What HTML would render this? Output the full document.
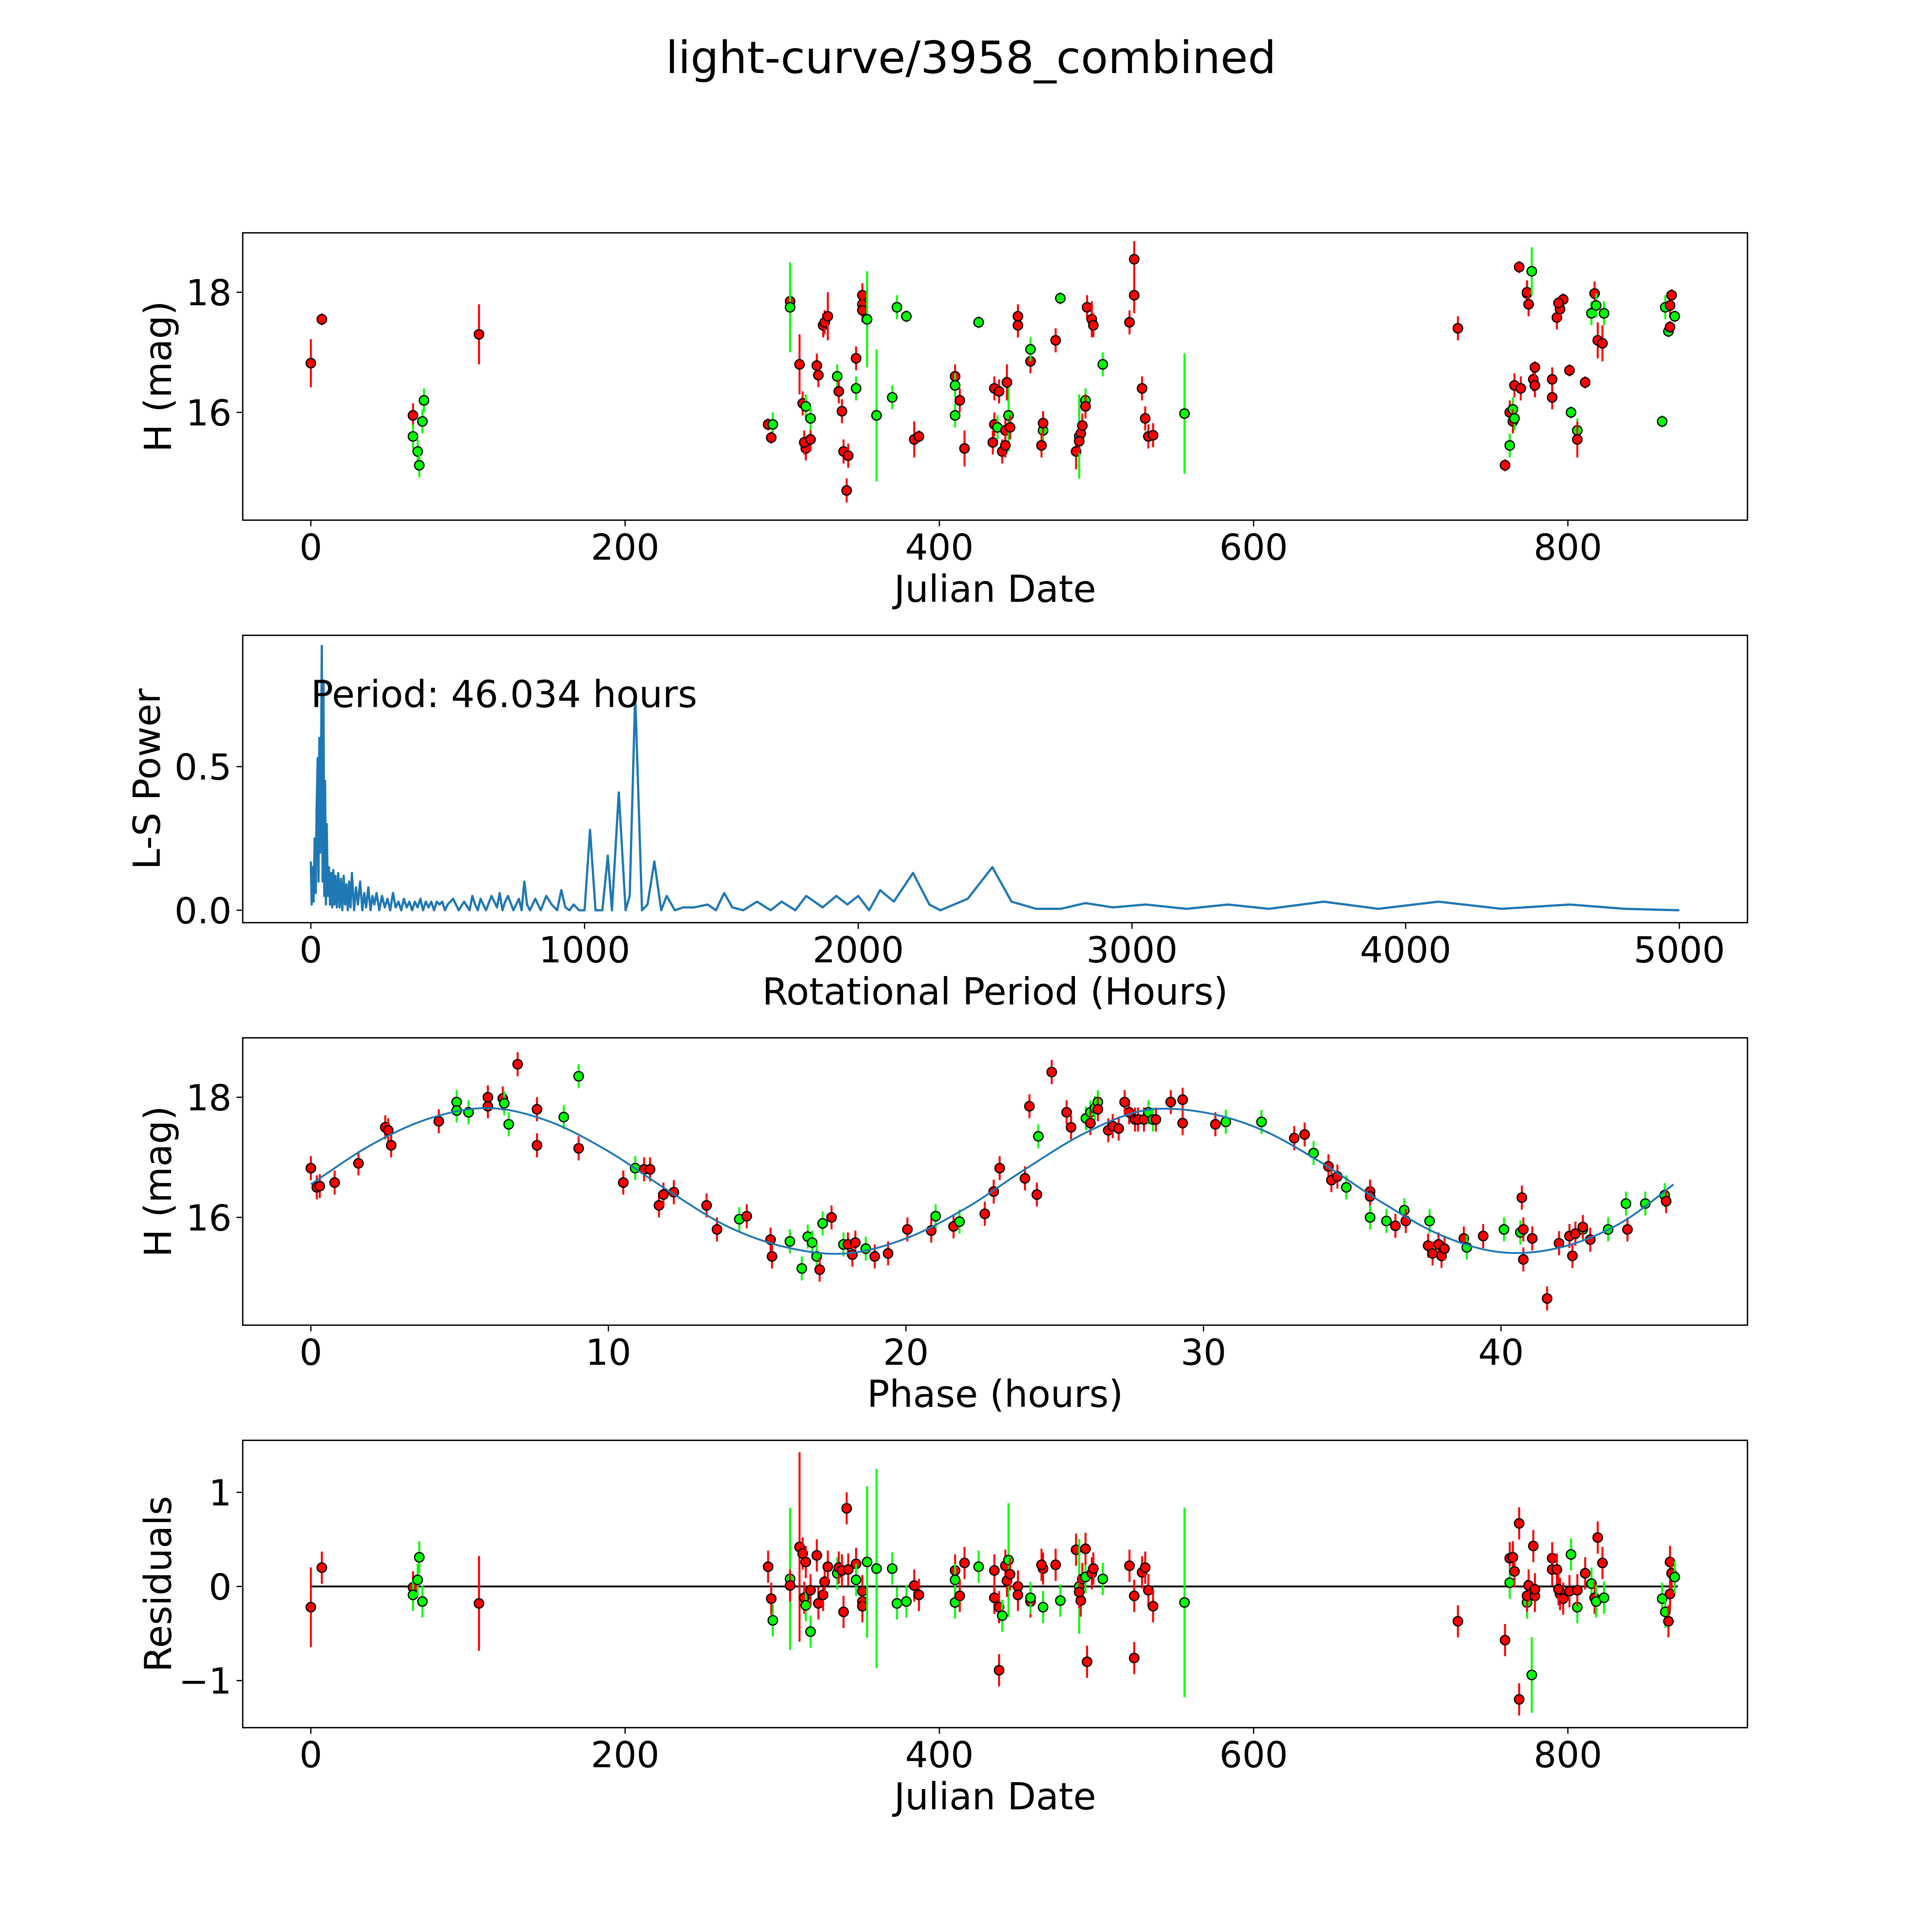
<!DOCTYPE html>
<html><head><meta charset="utf-8">
<style>
html,body{margin:0;padding:0;background:#fff;width:100%;height:100%;overflow:hidden;}
svg{display:block;width:100vw;height:100vh;}
text{font-family:"DejaVu Sans","Liberation Sans",sans-serif;fill:#000;}
</style></head>
<body>
<svg id="fig" viewBox="0 0 1560 1560" preserveAspectRatio="none" xmlns="http://www.w3.org/2000/svg">
<rect x="0" y="0" width="1560" height="1560" fill="#fff"/>
<text x="784" y="59" font-size="36" text-anchor="middle">light-curve/3958_combined</text>
<g id="layer"></g>
</svg>
<script>
// ---------- DATA ----------
const lcPoints=[[0,16.82,0.4,'r'],[7,17.55,0.1,'r'],[107,17.3,0.5,'r'],[65,15.95,0.2,'r'],[65,15.6,0.2,'g'],[68,15.35,0.2,'g'],[69,15.12,0.2,'g'],[71,15.85,0.2,'g'],[72,16.2,0.2,'g'],
[291,15.8,0.1,'r'],[294,15.8,0.2,'g'],[293,15.58,0.1,'r'],[305,17.85,0.2,'r'],[305,17.75,0.75,'g'],[311,16.8,0.5,'r'],[313,16.15,0.2,'r'],[315,16.1,0.2,'g'],[315,15.4,0.2,'r'],[314,15.5,0.2,'r'],[318,15.55,0.2,'r'],[318,15.9,0.2,'g'],
[322,16.78,0.2,'r'],[323,16.62,0.2,'r'],[326,17.45,0.2,'r'],[327,17.5,0.2,'r'],[329,17.6,0.4,'r'],[335,16.6,0.2,'g'],[336,16.35,0.2,'r'],[338,16.02,0.2,'r'],[339,15.35,0.2,'r'],[342,15.28,0.2,'r'],[341,14.7,0.2,'r'],
[347,16.9,0.2,'r'],[347,16.4,0.2,'g'],[351,17.95,0.2,'r'],[351,17.8,0.2,'r'],[351,17.7,0.2,'r'],[354,17.55,0.8,'g'],[360,15.95,1.1,'g'],[370,16.25,0.2,'g'],[373,17.75,0.2,'g'],[379,17.6,0.1,'g'],[384,15.55,0.3,'r'],[387,15.6,0.1,'r'],
[410,16.6,0.2,'r'],[410,16.45,0.2,'g'],[410,15.95,0.2,'g'],[413,16.2,0.2,'r'],[416,15.4,0.3,'r'],[425,17.5,0.1,'g'],[435,16.4,0.2,'r'],[438,16.35,0.2,'r'],[435,15.8,0.2,'r'],[434,15.5,0.2,'r'],[437,15.75,0.2,'g'],[440,15.35,0.2,'r'],[442,15.7,0.2,'r'],[444,15.95,0.6,'g'],[443,16.5,0.3,'r'],[442,15.45,0.2,'r'],[445,15.75,0.2,'r'],
[450,17.6,0.2,'r'],[450,17.45,0.2,'r'],[458,16.85,0.2,'r'],[458,17.05,0.2,'g'],[466,15.7,0.2,'g'],[466,15.82,0.2,'r'],[465,15.45,0.2,'r'],[474,17.2,0.2,'r'],[477,17.9,0.1,'g'],
[487,15.35,0.3,'r'],[489,15.6,0.7,'g'],[490,15.65,0.2,'r'],[491,15.78,0.2,'r'],[489,15.52,0.2,'r'],[493,16.2,0.2,'g'],[493,16.1,0.2,'r'],[494,17.75,0.2,'r'],[497,17.55,0.3,'r'],[498,17.45,0.2,'r'],[504,16.8,0.2,'g'],
[521,17.5,0.2,'r'],[524,17.95,0.3,'r'],[524,18.55,0.3,'r'],[529,16.4,0.2,'r'],[531,15.9,0.2,'r'],[533,15.6,0.2,'r'],[536,15.62,0.2,'r'],[556,15.98,1.0,'g'],
[730,17.4,0.2,'r'],[760,15.12,0.1,'r'],[763,15.45,0.2,'g'],[763,16.0,0.2,'r'],[765,16.05,0.2,'g'],[765,15.85,0.2,'r'],[766,15.9,0.2,'g'],[766,16.45,0.2,'r'],[770,16.4,0.2,'r'],
[769,18.42,0.1,'r'],[774,17.98,0.2,'g'],[774,18.0,0.2,'r'],[775,17.8,0.2,'r'],[777,18.35,0.4,'g'],[778,16.55,0.2,'r'],[779,16.75,0.1,'r'],[779,16.45,0.2,'r'],[790,16.55,0.2,'r'],[790,16.25,0.2,'r'],
[793,17.58,0.2,'r'],[795,17.72,0.2,'r'],[797,17.88,0.1,'r'],[794,17.82,0.1,'r'],[801,16.7,0.1,'r'],[802,16.0,0.1,'g'],[806,15.7,0.2,'g'],[806,15.55,0.3,'r'],[811,16.5,0.1,'r'],
[815,17.65,0.2,'g'],[817,17.98,0.2,'r'],[818,17.78,0.2,'g'],[819,17.2,0.3,'r'],[822,17.15,0.3,'r'],[823,17.65,0.2,'g'],[860,15.85,0.1,'g'],[862,17.75,0.2,'g'],[864,17.35,0.1,'g'],[865,17.42,0.1,'r'],[865,17.78,0.2,'r'],[866,17.95,0.1,'r'],[868,17.6,0.1,'g']];

const lsPeriod=[0,3,6,10,14,18,21,25,28,31,34,37,40,43,46,49,52,55,58,62,66,70,74,78,82,86,90,95,100,105,110,115,120,125,130,135,140,145,150,158,165,172,180,188,195,202,210,218,225,232,240,250,260,270,280,290,300,310,320,330,340,350,360,370,380,390,400,410,420,430,440,450,460,470,480,490,500,520,540,560,580,590,600,610,620,640,660,680,690,700,710,720,740,760,770,780,790,800,820,840,860,880,900,915,930,945,960,980,1000,1020,1040,1065,1085,1100,1125,1150,1165,1185,
1210,1230,1255,1280,1300,1330,1360,1400,1450,1480,1510,1540,1580,1630,1680,1720,1770,1810,1870,1920,1960,2000,2040,2080,2130,2200,2260,2300,2400,2490,2560,2650,2740,2830,2930,3050,3200,3350,3500,3700,3900,4120,4350,4600,4800,5000];
const lsPower=[0.17,0.02,0.15,0.03,0.25,0.06,0.35,0.53,0.1,0.6,0.2,0.5,0.92,0.1,0.8,0.05,0.45,0.02,0.3,0.05,0.15,0.02,0.13,0.01,0.14,0.02,0.12,0.01,0.13,0.01,0.11,0.0,0.12,0.02,0.09,0.0,0.1,0.01,0.13,0.0,0.08,0.02,0.1,0.0,0.06,0.01,0.08,0.0,0.05,0.02,0.06,0.0,0.05,0.01,0.04,0.0,0.06,0.01,0.03,0.0,0.04,0.01,0.03,0.0,0.03,0.01,0.04,0.0,0.03,0.01,0.03,0.0,0.03,0.02,0.03,0.0,0.02,0.04,0.0,0.03,0.0,0.05,0.02,0.0,0.04,0.0,0.05,0.01,0.06,0.0,0.03,0.05,0.0,0.04,0.0,0.1,0.02,0.0,0.04,0.0,0.05,0.02,0.0,0.07,0.01,0.0,0.02,0.0,0.0,0.28,0.0,0.0,0.19,0.0,0.41,0.0,0.05,0.75,
0.0,0.02,0.17,0.0,0.05,0.0,0.01,0.01,0.02,0.0,0.06,0.01,0.0,0.03,0.0,0.03,0.0,0.05,0.01,0.05,0.02,0.05,0.0,0.07,0.03,0.13,0.02,0.0,0.04,0.15,0.03,0.005,0.005,0.025,0.01,0.02,0.005,0.02,0.005,0.03,0.005,0.03,0.005,0.02,0.005,0.0];

const fitPhase=[0,2,4,6,8,10,12,14,16,18,20,22,24,26,28,30,32,34,36,38,40,42,44,45.8];
const fitMag=[16.55,17.2,17.65,17.82,17.6,17.1,16.45,15.85,15.5,15.4,15.65,16.15,16.8,17.4,17.78,17.75,17.45,16.9,16.25,15.7,15.42,15.5,15.9,16.55];

const phPoints=[[0,16.82,'r'],[0.2,16.5,'r'],[0.3,16.52,'r'],[0.8,16.58,'r'],[1.6,16.9,'r'],[2.5,17.5,'r'],[2.6,17.45,'r'],[2.7,17.2,'r'],[4.3,17.6,'r'],[4.9,17.92,'g'],[4.9,17.78,'g'],[5.3,17.75,'g'],[5.95,17.85,'r'],[5.95,18.0,'r'],[6.45,17.98,'r'],[6.5,17.9,'g'],[6.65,17.55,'g'],[6.95,18.55,'r'],[7.6,17.8,'r'],[7.6,17.2,'r'],[8.5,17.67,'g'],[9.0,17.15,'r'],[9.0,18.35,'g'],
[10.5,16.58,'r'],[10.9,16.82,'g'],[11.2,16.8,'r'],[11.4,16.8,'r'],[11.7,16.2,'r'],[11.85,16.38,'r'],[12.2,16.42,'r'],[13.3,16.2,'r'],[13.65,15.8,'r'],[14.4,15.97,'g'],[14.65,16.02,'r'],[15.45,15.63,'r'],[15.5,15.35,'r'],[16.1,15.6,'g'],[16.5,15.15,'g'],[16.7,15.68,'g'],[16.85,15.58,'g'],[17.0,15.35,'g'],[17.1,15.13,'r'],[17.2,15.9,'g'],[17.5,16.0,'r'],[17.9,15.55,'g'],[18.05,15.55,'r'],[18.3,15.58,'r'],[18.2,15.38,'r'],[18.65,15.48,'g'],[18.95,15.35,'r'],[19.4,15.4,'r'],
[20.05,15.8,'r'],[20.85,15.78,'r'],[21.0,16.02,'g'],[21.6,15.85,'r'],[21.8,15.93,'g'],[22.65,16.06,'r'],[22.95,16.43,'r'],[23.15,16.82,'r'],[24.0,16.65,'r'],[24.4,16.38,'r'],[24.45,17.35,'g'],[24.15,17.85,'r'],[24.9,18.42,'r'],[25.4,17.75,'r'],[25.55,17.5,'r'],[26.05,17.65,'g'],[26.2,17.75,'g'],[26.35,17.82,'g'],[26.45,17.92,'g'],[26.2,17.57,'r'],[26.45,17.8,'r'],[26.8,17.45,'r'],[26.95,17.52,'r'],[27.15,17.48,'r'],[27.5,17.75,'r'],[27.35,17.92,'r'],[27.7,17.63,'r'],[27.8,17.63,'r'],[28.0,17.63,'r'],[28.15,17.75,'g'],[28.3,17.63,'g'],[28.4,17.63,'r'],[28.9,17.92,'r'],[29.3,17.96,'r'],[29.3,17.57,'r'],
[30.4,17.55,'r'],[30.75,17.59,'g'],[31.95,17.59,'g'],[33.05,17.32,'r'],[33.4,17.38,'r'],[33.7,17.07,'g'],[34.2,16.85,'r'],[34.3,16.62,'r'],[34.5,16.68,'r'],[34.8,16.5,'g'],[35.6,16.43,'r'],[35.6,16.35,'r'],[35.6,16.0,'g'],[36.15,15.94,'g'],[36.45,15.86,'r'],[36.75,16.12,'g'],[36.8,15.94,'r'],[37.6,15.94,'g'],[37.55,15.53,'r'],[37.7,15.4,'r'],[37.9,15.55,'r'],[38.0,15.36,'r'],[38.1,15.48,'r'],[38.75,15.65,'r'],[38.85,15.5,'g'],[39.4,15.69,'r'],
[40.1,15.8,'g'],[40.65,15.75,'g'],[40.7,16.33,'r'],[40.75,15.8,'r'],[40.75,15.3,'r'],[41.05,15.65,'r'],[41.55,14.65,'r'],[41.95,15.57,'r'],[42.3,15.69,'r'],[42.4,15.36,'r'],[42.5,15.73,'r'],[42.75,15.8,'g'],[42.75,15.84,'r'],[43.0,15.63,'r'],[43.6,15.8,'g'],[44.25,15.8,'r'],[44.2,16.23,'g'],[44.85,16.23,'g'],[45.5,16.37,'g'],[45.55,16.27,'r']];

const resPoints=[[0,-0.22,'r'],[7,0.2,'r'],[107,-0.18,'r'],[65,-0.01,'r'],[65,-0.09,'g'],[68,0.07,'g'],[69,0.31,'g'],[71,-0.16,'g'],
[291,0.21,'r'],[294,-0.36,'g'],[293,-0.13,'r'],[305,0.08,'g'],[305,0.01,'r'],[311,0.42,'r'],[313,0.35,'r'],[315,0.26,'r'],[314,-0.12,'r'],[315,-0.2,'g'],[318,-0.48,'g'],[318,-0.04,'r'],[322,0.33,'r'],[323,-0.18,'r'],[326,-0.09,'r'],[327,0.05,'r'],[329,0.21,'r'],[335,0.14,'g'],[336,0.2,'r'],[338,0.17,'r'],[339,-0.27,'r'],[341,0.83,'r'],[342,0.18,'r'],[347,0.24,'r'],[347,0.07,'g'],[351,-0.16,'r'],[351,-0.21,'r'],[351,-0.05,'r'],[354,0.26,'g'],[360,0.19,'g'],[370,0.19,'g'],[373,-0.18,'g'],[379,-0.16,'g'],[384,0.01,'r'],[387,-0.09,'r'],
[410,0.17,'r'],[410,-0.17,'g'],[410,0.07,'g'],[413,-0.1,'r'],[416,0.25,'r'],[425,0.21,'g'],[435,0.17,'r'],[435,-0.12,'r'],[438,-0.22,'r'],[438,-0.89,'r'],[440,-0.31,'g'],[442,0.22,'r'],[444,0.28,'g'],[443,0.06,'r'],[445,0.13,'r'],[450,0.0,'r'],[450,-0.09,'r'],[458,-0.16,'r'],[458,-0.12,'g'],[466,-0.22,'g'],[466,0.19,'r'],[465,0.23,'r'],[474,0.23,'r'],[477,-0.15,'g'],
[487,0.39,'r'],[489,0.0,'g'],[490,-0.15,'r'],[491,0.08,'r'],[489,-0.06,'r'],[493,0.1,'g'],[493,0.4,'r'],[494,-0.8,'r'],[497,0.14,'r'],[498,0.19,'r'],[504,0.08,'g'],[521,0.22,'r'],[524,-0.76,'r'],[524,-0.1,'r'],[529,0.15,'r'],[531,0.2,'r'],[533,-0.04,'r'],[536,-0.21,'r'],[556,-0.17,'g'],
[730,-0.37,'r'],[760,-0.57,'r'],[763,0.3,'r'],[763,0.04,'g'],[765,0.31,'r'],[766,0.16,'r'],[769,-1.2,'r'],[769,0.67,'r'],[774,-0.17,'g'],[774,-0.1,'r'],[775,0.01,'r'],[777,-0.94,'g'],[778,0.43,'r'],[779,-0.1,'r'],[779,-0.03,'r'],[790,0.3,'r'],[790,0.18,'r'],[793,0.18,'r'],[795,-0.08,'r'],[797,-0.13,'r'],[794,-0.03,'r'],[801,-0.05,'r'],[802,0.34,'g'],[806,-0.22,'g'],[806,-0.04,'r'],[811,0.14,'r'],[815,0.03,'g'],[817,-0.12,'r'],[818,-0.16,'g'],[819,0.52,'r'],[822,0.25,'r'],[823,-0.12,'g'],[860,-0.13,'g'],[862,-0.27,'g'],[864,-0.37,'r'],[865,-0.08,'r'],[865,0.26,'r'],[866,0.14,'r'],[868,0.1,'g']];

const dateTicks=[0,200,400,600,800];
const magTicks=[16,18];
const periodTicks=[0,1000,2000,3000,4000,5000];
const powerTicks=[0.0,0.5];
const phaseTicks=[0,10,20,30,40];
const resTicks=[-1,0,1];

// ---------- DRAWING ----------
const NS='http://www.w3.org/2000/svg';
const layer=document.getElementById('layer');
function mk(tag,attrs,parent){const e=document.createElementNS(NS,tag);for(const k in attrs)e.setAttribute(k,attrs[k]);(parent||layer).appendChild(e);return e;}
function lin(d0,d1,p0,p1){return v=>p0+(v-d0)*(p1-p0)/(d1-d0);}

const L=196,R=1411;
const xDate=lin(0,800,251,1266);
const xPer=lin(0,5000,251,1356);
const xPh=lin(0,40,251,1212);
const y1=lin(18,16,236,333);
const y2=lin(0,0.5,735,619);
const y3=lin(18,16,886,983);
const y4=lin(0,1,1281,1205);
const COL={r:'#ff0000',g:'#00ff00'};

function axes(name,top,xs,xt,ys,yt,xlabel,ylabel,fmtY,ylx){
  const g=mk('g',{});
  
  
  const fr=mk('rect',{x:L,y:top,width:R-L,height:232,fill:'none',stroke:'#000','stroke-width':1.1},g);
  
  
  const bot=top+232;
  xt.forEach(v=>{const x=xs(v);
    const t=mk('line',{x1:x,x2:x,y1:bot,y2:bot+5,stroke:'#000','stroke-width':1},g);
    
    
    const tx=mk('text',{x:x,y:bot+32,'font-size':29,'text-anchor':'middle'},g);tx.textContent=String(v);
    
    
  });
  yt.forEach(v=>{const y=ys(v);
    const t=mk('line',{x1:L-5,x2:L,y1:y,y2:y,stroke:'#000','stroke-width':1},g);
    
    
    const tx=mk('text',{x:L-9,y:y+10.5,'font-size':29,'text-anchor':'end'},g);tx.textContent=fmtY(v);
    
    
  });
  const xl=mk('text',{x:(L+R)/2,y:bot+66,'font-size':30,'text-anchor':'middle'},g);xl.textContent=xlabel;
  
  
  const cy=top+116;
  const yl=mk('text',{x:ylx,y:cy,'font-size':30,'text-anchor':'middle',transform:`rotate(-90 ${ylx} ${cy})`},g);yl.textContent=ylabel;
  
  
  return g;
}
function pt(g,x,y,err,c){
  if(err>0){const e=mk('line',{x1:x,x2:x,y1:y-err,y2:y+err,stroke:COL[c],'stroke-width':1.6},g);
    
    }
  const m=mk('circle',{cx:x,cy:y,r:3.8,fill:COL[c],stroke:'#000','stroke-width':1},g);
  
  
}
const intF=v=>String(v);
const minusF=v=>v<0?'\u2212'+Math.abs(v):String(v);

// Panel 1
const g1=axes('light-curve-panel',188,xDate,dateTicks,y1,magTicks,'Julian Date','H (mag)',intF,138);
lcPoints.forEach(p=>pt(g1,xDate(p[0]),y1(p[1]),p[2]*48.5,p[3]));

// Panel 2
const g2=axes('periodogram-panel',513,xPer,periodTicks,y2,powerTicks,'Rotational Period (Hours)','L-S Power',v=>v.toFixed(1),129);
const pd=lsPeriod.map((p,i)=>(i?'L':'M')+xPer(p).toFixed(2)+','+y2(lsPower[i]).toFixed(2)).join(' ');
const ln=mk('path',{d:pd,fill:'none',stroke:'#1f77b4','stroke-width':1.8,'stroke-linejoin':'round'},g2);


const pt2=mk('text',{x:251,y:571,'font-size':30},g2);pt2.textContent='Period: 46.034 hours';



// Panel 3
const g3=axes('phase-panel',838,xPh,phaseTicks,y3,magTicks,'Phase (hours)','H (mag)',intF,138);
phPoints.forEach(p=>pt(g3,xPh(p[0]),y3(p[1]),0.2*48.5,p[2]));
(function(){
  const P=fitPhase.map((t,i)=>[xPh(t),y3(fitMag[i])]);
  let d='M'+P[0][0]+','+P[0][1];
  for(let i=0;i<P.length-1;i++){
    const p0=P[Math.max(0,i-1)],p1=P[i],p2=P[i+1],p3=P[Math.min(P.length-1,i+2)];
    const c1=[p1[0]+(p2[0]-p0[0])/6,p1[1]+(p2[1]-p0[1])/6];
    const c2=[p2[0]-(p3[0]-p1[0])/6,p2[1]-(p3[1]-p1[1])/6];
    d+=` C${c1[0]},${c1[1]} ${c2[0]},${c2[1]} ${p2[0]},${p2[1]}`;
  }
  const f=mk('path',{d:d,fill:'none',stroke:'#1f77b4','stroke-width':1.5},g3);
  
  
})();

// Panel 4
const g4=axes('residuals-panel',1163,xDate,dateTicks,y4,resTicks,'Julian Date','Residuals',minusF,138);
const zl=mk('line',{x1:xDate(0),x2:xDate(870),y1:y4(0),y2:y4(0),stroke:'#000','stroke-width':1.5},g4);


const resErr={'0':0.42,'107':0.5,'305':0.75,'311':1.0,'354':0.8,'360':1.05,'444':0.6,'489':0.5,'556':1.0,'769':0.2,'777':0.4};
resPoints.forEach(p=>{
  let e=0.17;
  if(resErr[p[0]]!==undefined&&(p[2]==='g'||p[0]===0||p[0]===107||p[0]===311))e=resErr[p[0]];
  pt(g4,xDate(p[0]),y4(p[1]),e*76.5,p[2]);
});
</script>
</body></html>
